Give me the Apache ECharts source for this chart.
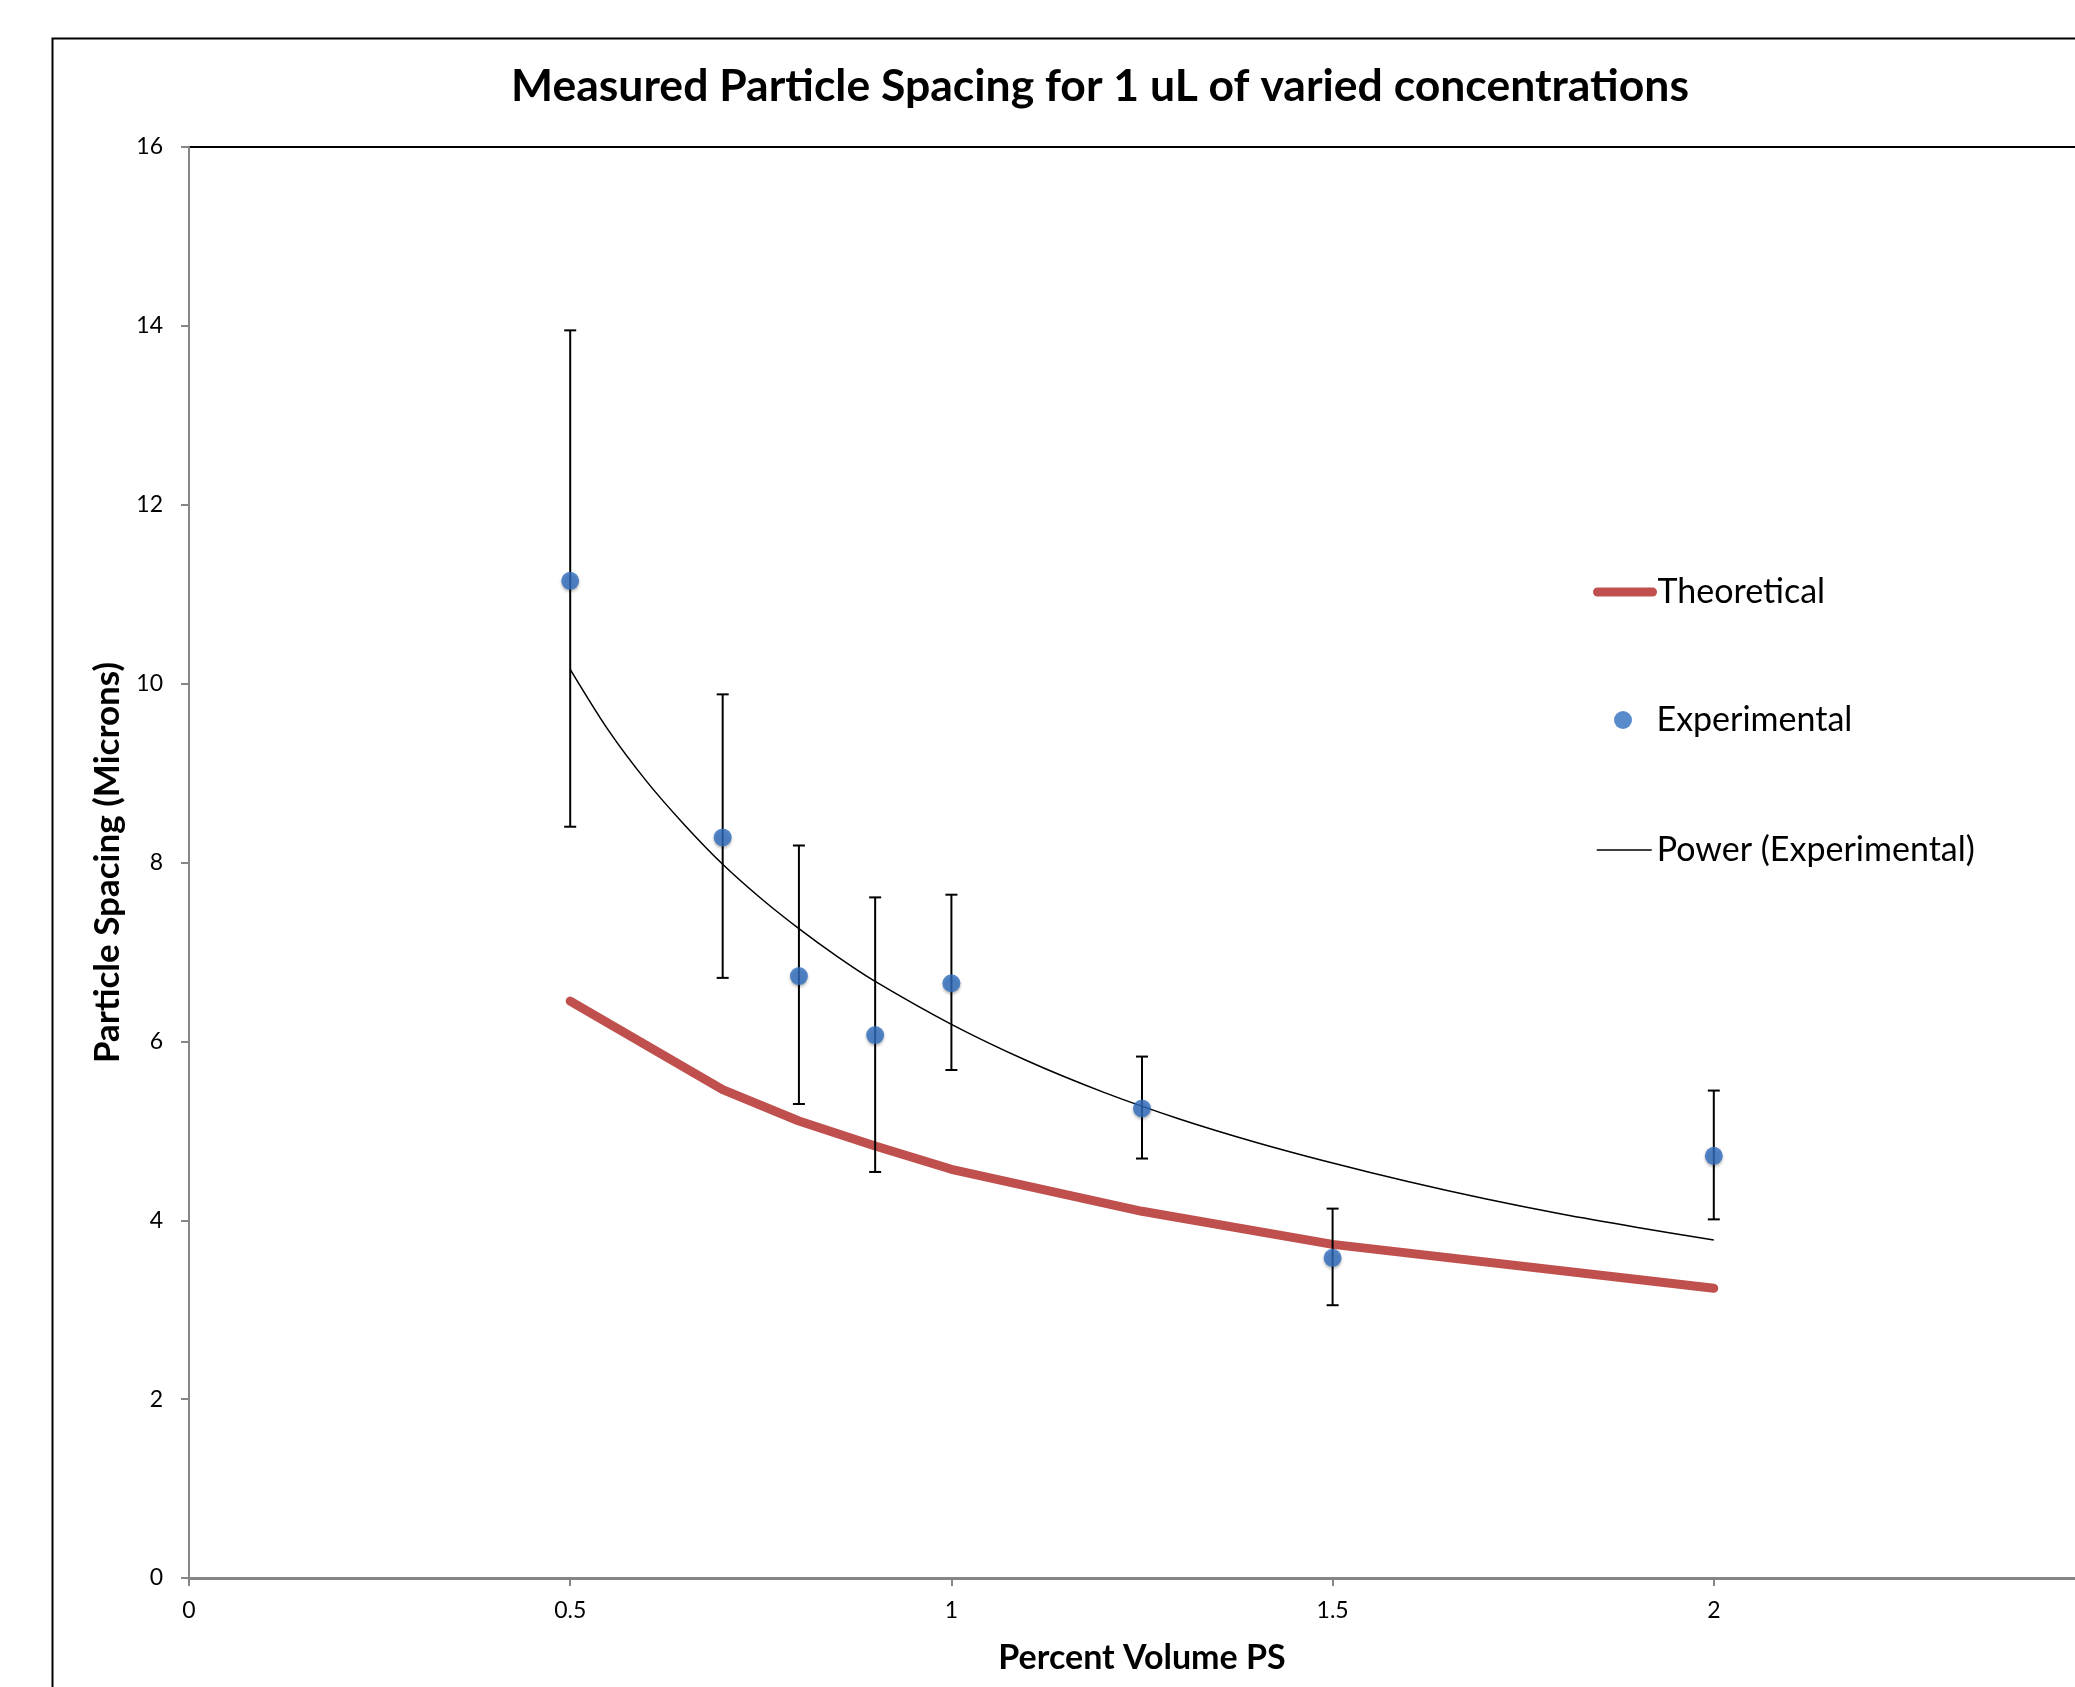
<!DOCTYPE html>
<html><head><meta charset="utf-8">
<script src="https://cdn.jsdelivr.net/npm/echarts@6/dist/echarts.min.js"></script>
<style>html,body{margin:0;padding:0;background:#fff}#c{width:2075px;height:1687px}</style>
</head><body><div id="c"></div>
<script>
// Experimental measurements (x = Percent Volume PS, y = spacing in microns)
const expX = [0.5, 0.7, 0.8, 0.9, 1.0, 1.25, 1.5, 2.0];
const expY = [11.15, 8.28, 6.73, 6.07, 6.65, 5.25, 3.58, 4.72];
const errLow = [8.40, 6.71, 5.30, 4.54, 5.68, 4.69, 3.05, 4.01];
const errHigh = [13.95, 9.88, 8.19, 7.61, 7.64, 5.83, 4.13, 5.45];
// Theoretical curve
const theoX = [0.5, 0.7, 0.8, 0.9, 1.0, 1.25, 1.5, 2.0];
const theoY = [6.45, 5.46, 5.11, 4.83, 4.57, 4.10, 3.73, 3.24];
// Power trendline
const trendX = [0.5, 0.55, 0.6, 0.65, 0.7, 0.75, 0.8, 0.85, 0.9, 1.0, 1.1, 1.2, 1.3, 1.4, 1.5, 1.6, 1.7, 1.8, 1.9, 2.0];
const trendY = [10.16, 9.48, 8.91, 8.42, 7.98, 7.60, 7.26, 6.95, 6.67, 6.19, 5.78, 5.43, 5.13, 4.87, 4.64, 4.43, 4.24, 4.07, 3.92, 3.78];

const FONT = 'Lato';
const zip = (a, b) => a.map((v, i) => [v, b[i]]);
const legendText = {fontFamily: FONT, fontSize: 34, color: '#000', lineHeight: 42};

const chart = echarts.init(document.getElementById('c'), null, {renderer: 'canvas'});
chart.setOption({
  backgroundColor: '#fff',
  animation: false,
  textStyle: {fontFamily: FONT, color: '#000'},
  title: {
    text: 'Measured Particle Spacing for 1 uL of varied concentrations',
    left: 1095, top: 56, textAlign: 'center',
    textStyle: {fontFamily: FONT, fontWeight: 'bold', fontSize: 44.5, color: '#000', lineHeight: 52}
  },
  graphic: [{
    type: 'rect', left: 50, top: 36, z: -1, silent: true,
    shape: {width: 2100, height: 1700},
    style: {fill: 'none', stroke: '#000', lineWidth: 2}
  }],
  legend: [
    {data: ['Theoretical'], left: 1593, top: 571, padding: 0, itemWidth: 55, itemHeight: 10,
     lineStyle: {width: 9, cap: 'round'}, itemStyle: {opacity: 0},
     textStyle: legendText},
    {data: [{name: 'Experimental', icon: 'circle'}], left: 1614, top: 699, padding: 0, itemWidth: 57, itemHeight: 18,
     textStyle: legendText},
    {data: ['Power (Experimental)'], left: 1596, top: 829, padding: 0, itemWidth: 55, itemHeight: 10,
     lineStyle: {width: 1.5}, itemStyle: {opacity: 0},
     textStyle: legendText}
  ],
  grid: {left: 189, top: 147, width: 1906, height: 1431, outerBoundsMode: 'none', containLabel: false,
         show: true, borderColor: '#000', borderWidth: 2, backgroundColor: 'transparent'},
  xAxis: {
    type: 'value', min: 0, max: 2.5, interval: 0.5,
    name: 'Percent Volume PS', nameLocation: 'middle', nameGap: 63,
    nameTextStyle: {fontFamily: FONT, fontWeight: 'bold', fontSize: 34, color: '#000'},
    axisLine: {show: true, lineStyle: {color: '#868686', width: 3}},
    axisTick: {show: true, length: 8, lineStyle: {color: '#868686', width: 2}},
    axisLabel: {fontFamily: FONT, fontSize: 23, color: '#000', margin: 21},
    splitLine: {show: false}
  },
  yAxis: {
    type: 'value', min: 0, max: 16, interval: 2,
    name: 'Particle Spacing (Microns)', nameLocation: 'middle', nameGap: 62,
    nameTextStyle: {fontFamily: FONT, fontWeight: 'bold', fontSize: 35, color: '#000'},
    axisLine: {show: true, lineStyle: {color: '#868686', width: 2}},
    axisTick: {show: true, length: 8, lineStyle: {color: '#868686', width: 2}},
    axisLabel: {fontFamily: FONT, fontSize: 23, color: '#000', margin: 26},
    splitLine: {show: false}
  },
  series: [
    {
      name: 'Theoretical', type: 'line', data: zip(theoX, theoY),
      symbol: 'none', z: 2,
      lineStyle: {color: '#C0504D', width: 9, cap: 'round', join: 'round'},
      itemStyle: {color: '#C0504D'}
    },
    {
      name: 'Error', type: 'custom', z: 3,
      data: expX.map((x, i) => [x, errLow[i], errHigh[i]]),
      encode: {x: 0, y: [1, 2]},
      renderItem: function (params, api) {
        const x = api.value(0);
        const lo = api.coord([x, api.value(1)]);
        const hi = api.coord([x, api.value(2)]);
        const w = 6;
        const st = {stroke: '#000', lineWidth: 2};
        return {type: 'group', children: [
          {type: 'line', shape: {x1: lo[0], y1: lo[1], x2: hi[0], y2: hi[1]}, style: st},
          {type: 'line', shape: {x1: hi[0] - w, y1: hi[1], x2: hi[0] + w, y2: hi[1]}, style: st},
          {type: 'line', shape: {x1: lo[0] - w, y1: lo[1], x2: lo[0] + w, y2: lo[1]}, style: st}
        ]};
      }
    },
    {
      name: 'Power (Experimental)', type: 'line', data: zip(trendX, trendY),
      symbol: 'none', smooth: 0.3, z: 4,
      lineStyle: {color: '#000', width: 1.5},
      itemStyle: {color: '#000'}
    },
    {
      name: 'Experimental', type: 'scatter', data: zip(expX, expY), z: 5,
      symbol: 'circle', symbolSize: 18,
      itemStyle: {color: '#306EBF', shadowBlur: 3, shadowColor: 'rgba(0,0,0,0.35)', shadowOffsetY: 2}
    }
  ]
});
</script></body></html>
